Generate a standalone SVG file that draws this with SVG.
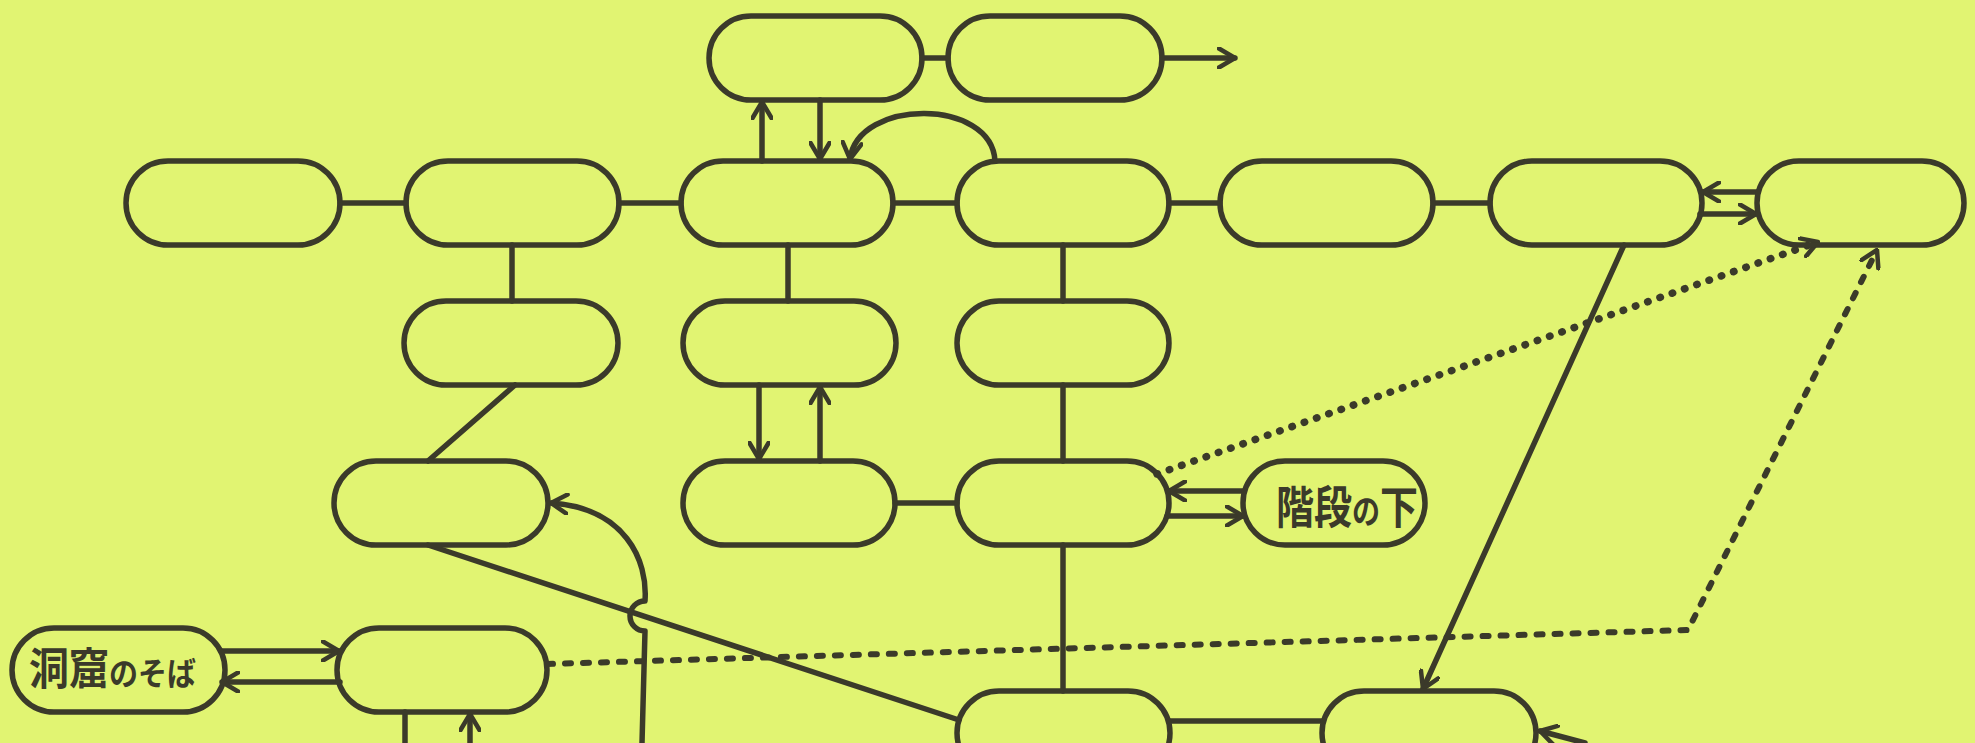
<svg xmlns="http://www.w3.org/2000/svg" width="1975" height="743" viewBox="0 0 1975 743">
<defs>
<style>
.n{fill:none;stroke:#3b3a2a;stroke-width:5.5}
.c{fill:none;stroke:#3b3a2a;stroke-width:5.5;stroke-linecap:round;stroke-linejoin:round}
.a{marker-end:url(#ah)}
.dot{stroke-width:7.5;stroke-dasharray:0.5 12.5}
.dash{stroke-width:6;stroke-dasharray:6 12}
.t{font-family:"Noto Sans CJK JP","Noto Sans",sans-serif;font-weight:700;fill:#3b3a2a}
</style>
<marker id="ah" viewBox="0 0 20 22" refX="18" refY="11" markerWidth="20" markerHeight="22" markerUnits="userSpaceOnUse" orient="auto">
<path d="M2 1.5 L18 11 L2 20.5" fill="none" stroke="#3b3a2a" stroke-width="4.5" stroke-linecap="round" stroke-linejoin="round"/>
</marker>
</defs>
<rect width="1975" height="743" fill="#e1f472"/>
<g id="connectors">
<path class="c" d="M922 58 H948"/>
<path class="c a" d="M1162 58 H1235"/>
<path class="c a" d="M762 161 V102"/>
<path class="c a" d="M820 100 V159"/>
<path class="c a" d="M995 161 C992 98 858 98 850 159"/>
<path class="c" d="M340 203 H406"/>
<path class="c" d="M619 203 H681"/>
<path class="c" d="M893 203 H957"/>
<path class="c" d="M1169 203 H1220"/>
<path class="c" d="M1433 203 H1490"/>
<path class="c a" d="M1758 192 H1703"/>
<path class="c a" d="M1700 214 H1756"/>
<path class="c" d="M512 245 V301"/>
<path class="c" d="M788 245 V301"/>
<path class="c" d="M1063 245 V301"/>
<path class="c" d="M515 385 L428 461"/>
<path class="c a" d="M759 385 V459"/>
<path class="c a" d="M820 461 V387"/>
<path class="c" d="M1063 385 V461"/>
<path class="c" d="M895 503 H957"/>
<path class="c a" d="M1244 491 H1169"/>
<path class="c a" d="M1167 516 H1243"/>
<path class="c dot a" d="M1157 474 L1818 242"/>
<path class="c dash a" d="M547 664 L1688 630 L1877 250"/>
<path class="c a" d="M1624 245 L1423 689"/>
<path class="c" d="M1063 545 V691"/>
<path class="c" d="M428 545 L959 720"/>
<path class="c" d="M1170 721 H1322"/>
<path class="c a" d="M642 743 L645 631 A15 15 0 0 1 645 601 C648 560 625 508 551 503"/>
<path class="c" d="M405 712 V743"/>
<path class="c a" d="M470 743 V714"/>
<path class="c a" d="M221 651 H339"/>
<path class="c a" d="M340 682 H222"/>
<path class="c a" d="M1585 743 L1540 731"/>
</g>
<g id="A"><rect class="n" x="709" y="16" width="213" height="84" rx="42"/></g>
<g id="B"><rect class="n" x="948" y="16" width="214" height="84" rx="42"/></g>
<g id="C"><rect class="n" x="126" y="161" width="214" height="84" rx="42"/></g>
<g id="D"><rect class="n" x="406" y="161" width="213" height="84" rx="42"/></g>
<g id="E"><rect class="n" x="681" y="161" width="212" height="84" rx="42"/></g>
<g id="F"><rect class="n" x="957" y="161" width="212" height="84" rx="42"/></g>
<g id="G"><rect class="n" x="1220" y="161" width="213" height="84" rx="42"/></g>
<g id="H"><rect class="n" x="1490" y="161" width="212" height="84" rx="42"/></g>
<g id="I"><rect class="n" x="1757" y="161" width="207" height="84" rx="42"/></g>
<g id="D2"><rect class="n" x="404" y="301" width="214" height="84" rx="42"/></g>
<g id="E2"><rect class="n" x="683" y="301" width="213" height="84" rx="42"/></g>
<g id="F2"><rect class="n" x="957" y="301" width="212" height="84" rx="42"/></g>
<g id="D3"><rect class="n" x="334" y="461" width="214" height="84" rx="42"/></g>
<g id="E3"><rect class="n" x="683" y="461" width="212" height="84" rx="42"/></g>
<g id="F3"><rect class="n" x="957" y="461" width="212" height="84" rx="42"/></g>
<g id="stairs"><rect class="n" x="1243" y="461" width="182" height="84" rx="42"/>
<text class="t" transform="translate(1276 524) scale(1 1.2)"><tspan font-size="38">階段</tspan><tspan font-size="28">の</tspan><tspan font-size="38">下</tspan></text></g>
<g id="cave"><rect class="n" x="12" y="628" width="213" height="84" rx="42"/>
<text class="t" transform="translate(29 685) scale(1 1.1)"><tspan font-size="40">洞窟</tspan><tspan font-size="29">のそば</tspan></text></g>
<g id="D4"><rect class="n" x="337" y="628" width="210" height="84" rx="42"/></g>
<g id="F4"><rect class="n" x="957" y="691" width="213" height="84" rx="42"/></g>
<g id="H4"><rect class="n" x="1322" y="691" width="214" height="84" rx="42"/></g>
</svg>
